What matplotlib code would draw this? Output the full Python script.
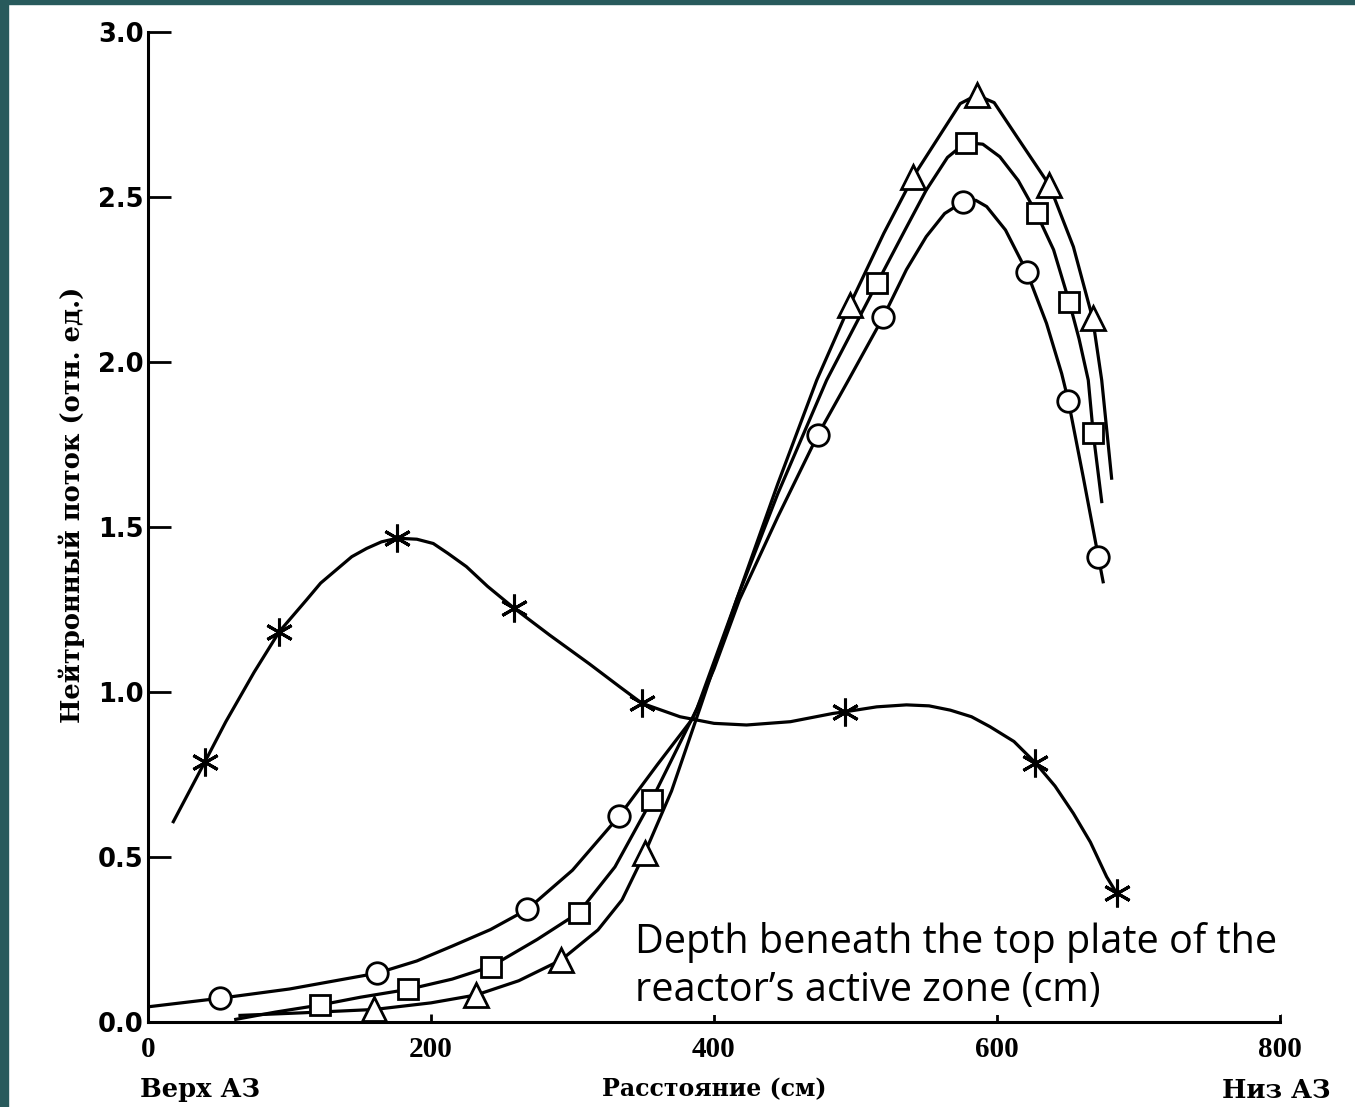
import matplotlib
matplotlib.use('Agg')
import matplotlib.pyplot as plt
from matplotlib.patches import Rectangle

# curves (distance cm, relative flux)
star_curve_x = [17.9, 40.3, 55, 75, 92.8, 112, 122, 133, 144, 154.5, 165, 176.2, 190, 201.6, 212, 225, 240,
                258.7, 284, 312, 333.6, 349, 376, 400, 423, 454, 484, 492.6, 515, 536, 552, 567, 582, 595,
                612, 627, 641, 654, 666, 677.5, 684.6]
star_curve_y = [0.607, 0.789, 0.91, 1.06, 1.183, 1.279, 1.33, 1.37, 1.41, 1.435, 1.455, 1.466, 1.463, 1.45, 1.42, 1.38, 1.32,
                1.254, 1.172, 1.085, 1.015, 0.966, 0.925, 0.905, 0.90, 0.91, 0.935, 0.94, 0.955, 0.961, 0.958, 0.945, 0.925, 0.895,
                0.85, 0.786, 0.715, 0.632, 0.545, 0.44, 0.39]
star_x = [40.3, 92.8, 176.2, 258.7, 349, 492.6, 627, 684.6]
star_y = [0.789, 1.183, 1.466, 1.254, 0.966, 0.94, 0.786, 0.39]

circ_curve_x = [0, 51, 100, 162, 190, 215, 242, 268, 300, 333, 360, 385, 400, 418, 445, 473.4, 495, 519.7,
                536, 550, 563, 576.2, 585, 592.7, 606, 621, 635, 645.7, 650.4, 661, 671.6, 675]
circ_curve_y = [0.046, 0.072, 0.10, 0.148, 0.185, 0.23, 0.28, 0.341, 0.46, 0.624, 0.78, 0.92, 1.07, 1.28, 1.53, 1.779, 1.945, 2.137,
                2.28, 2.38, 2.45, 2.486, 2.49, 2.471, 2.40, 2.274, 2.117, 1.965, 1.883, 1.65, 1.41, 1.334]
circ_x = [51, 162, 268, 333, 473.4, 519.7, 576.2, 621, 650.4, 671.6]
circ_y = [0.072, 0.148, 0.341, 0.624, 1.779, 2.137, 2.486, 2.274, 1.883, 1.41]

sq_curve_x = [62, 90, 121.6, 150, 184, 215, 242.3, 275, 304.3, 330, 356, 388, 416, 445, 479.6, 515.4, 535,
              550, 565, 577.9, 590, 602, 615, 628, 640, 651, 658, 664.5, 668, 674]
sq_curve_y = [0.008, 0.03, 0.0515, 0.075, 0.099, 0.13, 0.168, 0.25, 0.331, 0.47, 0.673, 0.95, 1.28, 1.6, 1.945, 2.24, 2.40,
              2.521, 2.62, 2.665, 2.66, 2.622, 2.55, 2.45, 2.34, 2.183, 2.07, 1.945, 1.784, 1.577]
sq_x = [121.6, 184, 242.3, 304.3, 356, 515.4, 577.9, 628, 651, 668]
sq_y = [0.0515, 0.099, 0.168, 0.331, 0.673, 2.24, 2.665, 2.45, 2.183, 1.784]

tri_curve_x = [65, 110, 160, 200, 232, 262, 292, 318, 335, 351, 370, 390, 416, 445, 472.6, 496, 520, 540.9,
               562, 574, 585.6, 598, 614, 637, 654, 667.6, 674, 681]
tri_curve_y = [0.02, 0.028, 0.038, 0.058, 0.082, 0.125, 0.188, 0.279, 0.37, 0.511, 0.70, 0.95, 1.28, 1.63, 1.945, 2.173, 2.39, 2.562,
               2.703, 2.783, 2.809, 2.786, 2.683, 2.536, 2.349, 2.132, 1.945, 1.648]
tri_x = [160, 232, 292, 351, 496, 540.9, 585.6, 637, 667.6]
tri_y = [0.038, 0.082, 0.188, 0.511, 2.173, 2.562, 2.809, 2.536, 2.132]

xticks = [0, 200, 400, 600, 800]
yticks = [0.0, 0.5, 1.0, 1.5, 2.0, 2.5, 3.0]

fig = plt.figure(figsize=(13.55, 11.07), dpi=100)
ax = fig.add_axes([148 / 1355, 85 / 1107, 1132 / 1355, 990 / 1107])

lw = 2.3
for cx, cy in [(star_curve_x, star_curve_y), (circ_curve_x, circ_curve_y),
               (sq_curve_x, sq_curve_y), (tri_curve_x, tri_curve_y)]:
    ax.plot(cx, cy, color='black', lw=lw, solid_joinstyle='round')

ax.plot(star_x, star_y, ls='none', marker=(6, 2, 0), ms=20, mew=2.2, color='black')
ax.plot(circ_x, circ_y, ls='none', marker='o', ms=15.5, mfc='white', mec='black', mew=2)
ax.plot(sq_x, sq_y, ls='none', marker='s', ms=14.5, mfc='white', mec='black', mew=2)
ax.plot(tri_x, tri_y, ls='none', marker='^', ms=17, mfc='white', mec='black', mew=2)

ax.set_xlim(0, 800)
ax.set_ylim(0, 3.0)
ax.spines['top'].set_visible(False)
ax.spines['right'].set_visible(False)
ax.spines['left'].set_linewidth(2.2)
ax.spines['bottom'].set_linewidth(2.2)

ax.set_xticks(xticks)
ax.set_xticklabels([str(v) for v in xticks], fontfamily='Liberation Serif', fontweight='bold', fontsize=21)
ax.set_yticks(yticks)
ax.set_yticklabels([f'{v:.1f}' for v in yticks], fontfamily='DejaVu Sans', fontweight='bold', fontsize=18.5)
ax.tick_params(axis='x', direction='in', length=6, width=2, pad=10)
ax.tick_params(axis='y', direction='in', length=16.5, width=2, pad=3)

rus = dict(fontfamily='DejaVu Serif', fontweight='bold', fontsize=18.5)
ax.set_xlabel('Расстояние (см)', labelpad=10, fontfamily='DejaVu Serif', fontweight='bold', fontsize=17)
ax.set_ylabel('Нейтронный поток (отн. ед.)', **rus)
ax.yaxis.set_label_coords((85 - 148) / 1132, (1022 - 505) / 990)
lab_y = (1022 - 1090) / 990
ax.text(-0.007, lab_y, 'Верх АЗ', transform=ax.transAxes, ha='left', va='center', **rus)
ax.text(1.045, lab_y, 'Низ АЗ', transform=ax.transAxes, ha='right', va='center', **rus)

ax.text((635 - 148) / 1132, (1022 - 922) / 990,
        'Depth beneath the top plate of the\nreactor\u2019s active zone (cm)',
        transform=ax.transAxes, ha='left', va='top', fontfamily='Open Sans', fontsize=28.5,
        linespacing=1.25, zorder=2.3,
        bbox=dict(facecolor='white', edgecolor='none', pad=3))

# teal slide border
fig.patches.append(Rectangle((0, 0), 8 / 1355, 1, transform=fig.transFigure, color='#285a5c', zorder=5))
fig.patches.append(Rectangle((0, 1 - 4 / 1107), 1, 4 / 1107, transform=fig.transFigure, color='#285a5c', zorder=5))

fig.savefig('out.png', dpi=100)
